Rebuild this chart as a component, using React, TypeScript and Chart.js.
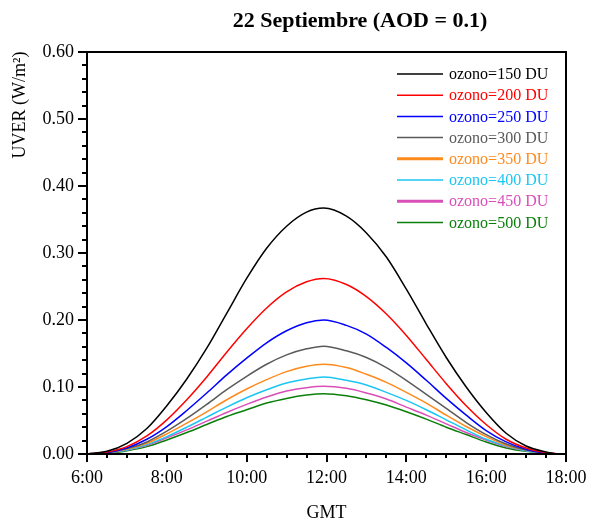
import { useEffect, useRef } from "react";
import { Chart, registerables } from "chart.js";

Chart.register(...registerables);

// GMT hours
const hours = [6, 6.5, 7, 7.5, 8, 8.5, 9, 9.5, 10, 10.5, 11, 11.5, 11.93, 12.5, 13, 13.5, 14, 14.5, 15, 15.5, 16, 16.5, 17, 17.5, 17.8];

const ozono150 = [0, 0.004, 0.016, 0.038, 0.072, 0.112, 0.158, 0.210, 0.262, 0.307, 0.340, 0.361, 0.367, 0.355, 0.330, 0.294, 0.246, 0.194, 0.144, 0.100, 0.062, 0.031, 0.012, 0.003, 0];
const ozono200 = [0, 0.003, 0.011, 0.027, 0.051, 0.081, 0.115, 0.152, 0.187, 0.218, 0.242, 0.257, 0.262, 0.253, 0.235, 0.209, 0.177, 0.141, 0.105, 0.072, 0.044, 0.022, 0.009, 0.002, 0];
const ozono250 = [0, 0.002, 0.009, 0.022, 0.041, 0.065, 0.091, 0.118, 0.143, 0.166, 0.184, 0.196, 0.200, 0.192, 0.179, 0.159, 0.136, 0.110, 0.083, 0.058, 0.035, 0.018, 0.007, 0.001, 0];
const ozono300 = [0, 0.002, 0.008, 0.018, 0.034, 0.053, 0.074, 0.096, 0.116, 0.134, 0.148, 0.157, 0.161, 0.154, 0.144, 0.129, 0.110, 0.089, 0.068, 0.047, 0.029, 0.015, 0.006, 0.001, 0];
const ozono350 = [0, 0.002, 0.007, 0.016, 0.030, 0.046, 0.063, 0.081, 0.097, 0.111, 0.123, 0.131, 0.134, 0.129, 0.119, 0.107, 0.092, 0.076, 0.058, 0.041, 0.026, 0.013, 0.006, 0.001, 0];
const ozono400 = [0, 0.002, 0.006, 0.014, 0.026, 0.040, 0.055, 0.070, 0.084, 0.096, 0.106, 0.112, 0.115, 0.110, 0.103, 0.092, 0.080, 0.066, 0.051, 0.036, 0.022, 0.012, 0.005, 0.001, 0];
const ozono450 = [0, 0.002, 0.006, 0.013, 0.024, 0.036, 0.049, 0.062, 0.074, 0.085, 0.094, 0.099, 0.101, 0.098, 0.091, 0.082, 0.070, 0.058, 0.045, 0.032, 0.021, 0.011, 0.005, 0.001, 0];
const ozono500 = [0, 0.001, 0.005, 0.011, 0.021, 0.032, 0.044, 0.056, 0.066, 0.076, 0.083, 0.088, 0.090, 0.087, 0.081, 0.073, 0.063, 0.052, 0.040, 0.029, 0.018, 0.009, 0.004, 0.001, 0];

const seriesLabels = ["ozono=150 DU", "ozono=200 DU", "ozono=250 DU", "ozono=300 DU", "ozono=350 DU", "ozono=400 DU", "ozono=450 DU", "ozono=500 DU"];
const seriesValues = [ozono150, ozono200, ozono250, ozono300, ozono350, ozono400, ozono450, ozono500];
const seriesColors = ["#000000", "#ff0000", "#0000ff", "#5a5a5a", "#ff8a1c", "#1cc6f4", "#d94fb8", "#0a800a"];
const legendLineWidths = [1.5, 1.5, 1.5, 1.5, 3, 1.5, 3, 1.5];

const titleText = "22 Septiembre (AOD = 0.1)";
const xTitle = "GMT";
const yTitle = "UVER (W/m²)";

const xMin = 6, xMax = 18, xMajor = 2, xMinor = 0.5;
const yMin = 0, yMax = 0.6, yMajor = 0.1, yMinor = 0.02;

const SERIF = "'Liberation Serif', 'Times New Roman', serif";

const decorPlugin = {
  id: "decor",
  afterDraw(chart: any) {
    const { ctx, chartArea: a, scales } = chart;
    const x = scales.x, y = scales.y;
    ctx.save();
    ctx.strokeStyle = "#000";
    ctx.lineWidth = 2;
    ctx.strokeRect(a.left, a.top, a.right - a.left, a.bottom - a.top);

    // x ticks
    const nx = Math.round((xMax - xMin) / xMinor);
    for (let i = 0; i <= nx; i++) {
      const v = xMin + i * xMinor;
      const px = Math.round(x.getPixelForValue(v));
      const major = i % Math.round(xMajor / xMinor) === 0;
      ctx.beginPath();
      ctx.moveTo(px, a.bottom);
      ctx.lineTo(px, a.bottom + (major ? 8 : 4));
      ctx.stroke();
    }
    // y ticks
    const ny = Math.round((yMax - yMin) / yMinor);
    for (let i = 0; i <= ny; i++) {
      const v = yMin + i * yMinor;
      const py = Math.round(y.getPixelForValue(v));
      const major = i % Math.round(yMajor / yMinor) === 0;
      ctx.beginPath();
      ctx.moveTo(a.left, py);
      ctx.lineTo(a.left - (major ? 9 : 5), py);
      ctx.stroke();
    }

    // title
    ctx.fillStyle = "#000";
    ctx.font = `bold 22px ${SERIF}`;
    ctx.textAlign = "center";
    ctx.textBaseline = "alphabetic";
    ctx.fillText(titleText, 360, 27);

    // x title
    ctx.font = `18px ${SERIF}`;
    ctx.fillText(xTitle, (a.left + a.right) / 2, 518);

    // y title
    ctx.save();
    ctx.translate(25, 105);
    ctx.rotate(-Math.PI / 2);
    ctx.textAlign = "center";
    ctx.fillText(yTitle, 0, 0);
    ctx.restore();

    // legend
    ctx.font = `16px ${SERIF}`;
    ctx.textAlign = "left";
    ctx.textBaseline = "middle";
    for (let i = 0; i < seriesLabels.length; i++) {
      const ly = 74 + i * 21.2;
      ctx.strokeStyle = seriesColors[i];
      ctx.lineWidth = legendLineWidths[i];
      ctx.beginPath();
      ctx.moveTo(397, ly);
      ctx.lineTo(443, ly);
      ctx.stroke();
      ctx.fillStyle = seriesColors[i];
      ctx.fillText(seriesLabels[i], 449, ly + 1);
    }
    ctx.restore();
  },
};

export default function App() {
  const ref = useRef<HTMLCanvasElement | null>(null);
  useEffect(() => {
    document.body.style.margin = "0";
    const canvas = ref.current;
    if (!canvas) return;
    const chart = new Chart(canvas, {
      type: "line",
      data: {
        datasets: seriesValues.map((vals, i) => ({
          label: seriesLabels[i],
          data: hours.map((h, j) => ({ x: h, y: vals[j] })),
          borderColor: seriesColors[i],
          backgroundColor: seriesColors[i],
          borderWidth: 1.5,
          pointRadius: 0,
          fill: false,
          cubicInterpolationMode: "monotone" as const,
        })),
      },
      options: {
        responsive: false,
        animation: false,
        events: [],
        layout: { padding: { top: 52, right: 25, left: 0, bottom: 0 } },
        plugins: {
          legend: { display: false },
          title: { display: false },
          tooltip: { enabled: false },
        },
        scales: {
          x: {
            type: "linear",
            min: xMin,
            max: xMax,
            grid: { display: false, drawTicks: false },
            border: { display: false },
            ticks: {
              stepSize: xMajor,
              autoSkip: false,
              maxRotation: 0,
              padding: 13,
              color: "#000",
              font: { family: SERIF, size: 18 },
              callback: (v: any) => `${Number(v)}:00`,
            },
            afterFit: (s: any) => {
              s.height = 70;
              s.paddingLeft = 0;
              s.paddingRight = 0;
            },
          },
          y: {
            type: "linear",
            min: yMin,
            max: yMax,
            grid: { display: false, drawTicks: false },
            border: { display: false },
            ticks: {
              stepSize: yMajor,
              padding: 13,
              color: "#000",
              font: { family: SERIF, size: 18 },
              callback: (v: any) => Number(v).toFixed(2),
            },
            afterFit: (s: any) => {
              s.width = 87;
              s.paddingTop = 0;
              s.paddingBottom = 0;
            },
          },
        },
      },
      plugins: [decorPlugin],
    });
    return () => chart.destroy();
  }, []);
  return (
    <div style={{ width: 591, height: 524, background: "#fff" }}>
      <canvas ref={ref} width={591} height={524} />
    </div>
  );
}
